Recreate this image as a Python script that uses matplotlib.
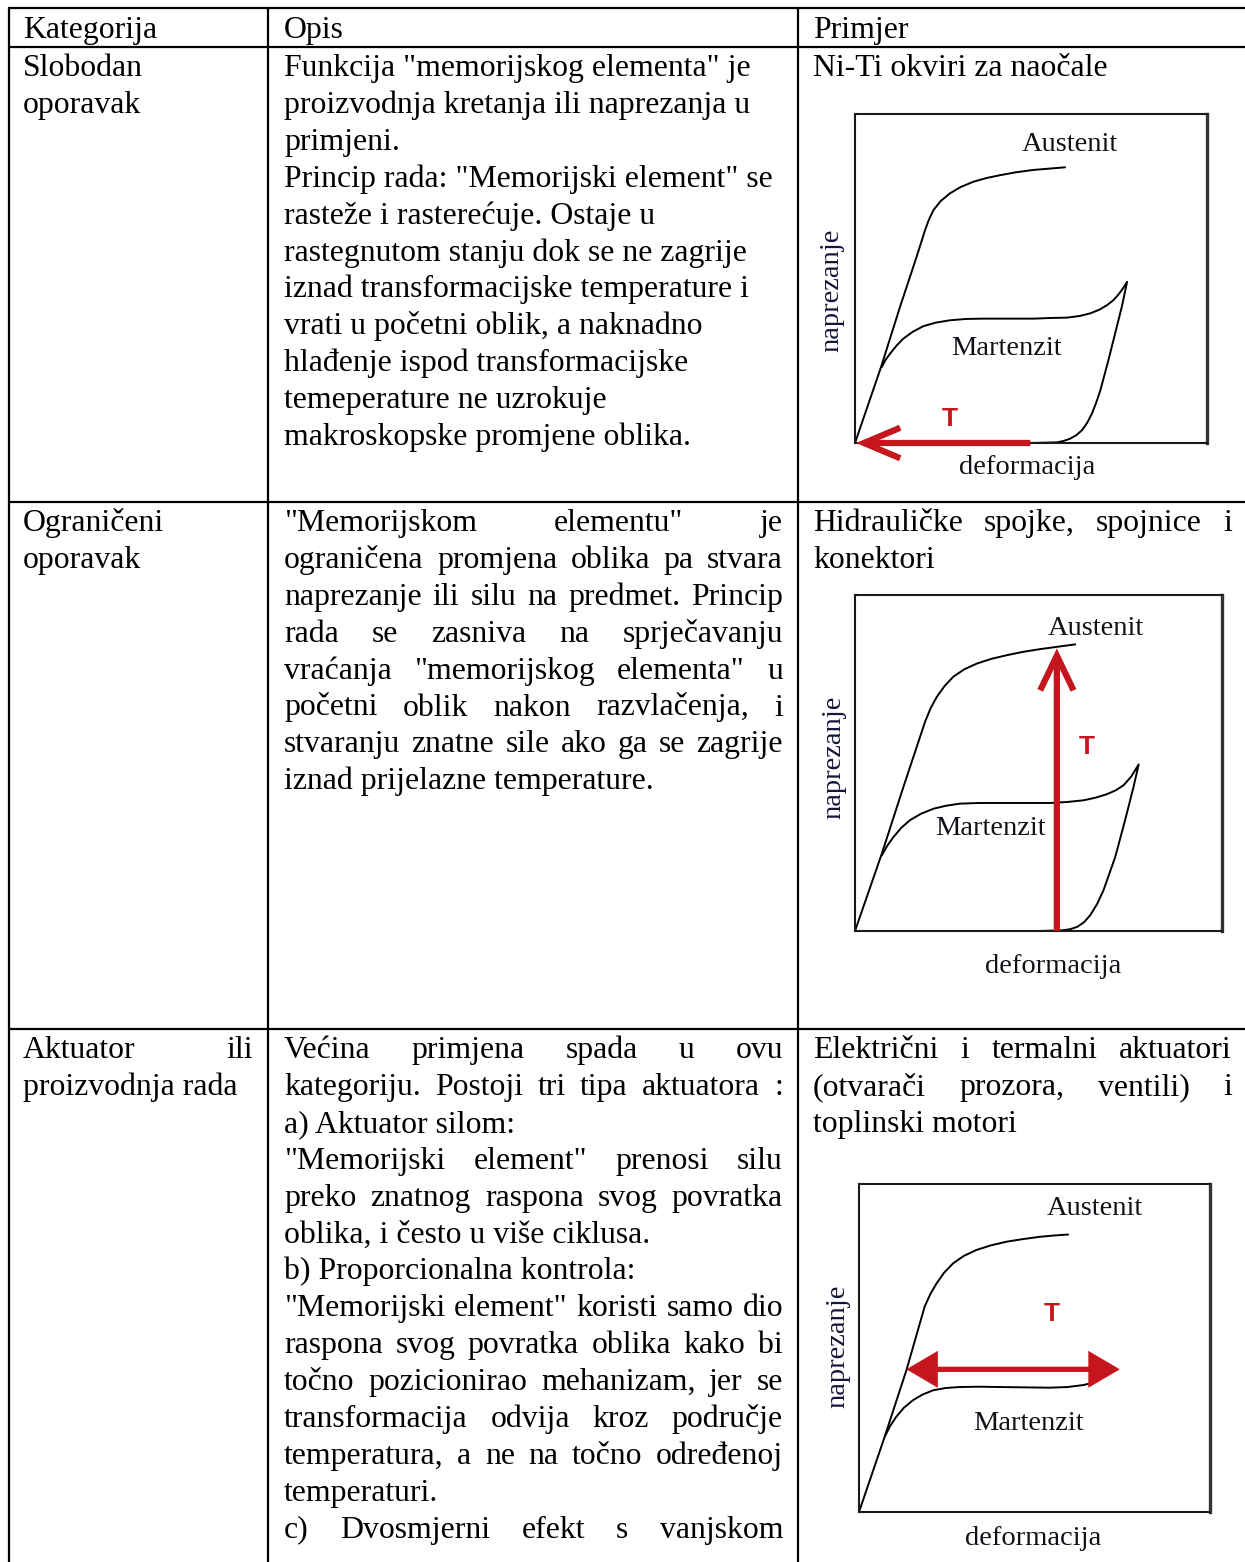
import matplotlib
matplotlib.use("Agg")
import matplotlib.pyplot as plt

W, H = 1245, 1562
SERIF = "Liberation Serif"
FS = 22.9
RED = "#c4161c"
INK = "#111118"

# ---------------- table content ----------------
headers = ["Kategorija", "Opis", "Primjer"]

row1_cat = ["Slobodan", "oporavak"]
row1_opis = [
    'Funkcija "memorijskog elementa" je',
    'proizvodnja kretanja ili naprezanja u',
    'primjeni.',
    'Princip rada: "Memorijski element" se',
    'rasteže i rasterećuje. Ostaje u',
    'rastegnutom stanju dok se ne zagrije',
    'iznad transformacijske temperature i',
    'vrati u početni oblik, a naknadno',
    'hlađenje ispod transformacijske',
    'temeperature ne uzrokuje',
    'makroskopske promjene oblika.',
]
row1_opis_just = [False] * 11
row1_prim = ["Ni-Ti okviri za naočale"]
row1_prim_just = [False]

row2_cat = ["Ograničeni", "oporavak"]
row2_opis = [
    '"Memorijskom elementu" je',
    'ograničena promjena oblika pa stvara',
    'naprezanje ili silu na predmet. Princip',
    'rada se zasniva na sprječavanju',
    'vraćanja "memorijskog elementa" u',
    'početni oblik nakon razvlačenja, i',
    'stvaranju znatne sile ako ga se zagrije',
    'iznad prijelazne temperature.',
]
row2_opis_just = [True] * 7 + [False]
row2_prim = ["Hidrauličke spojke, spojnice i", "konektori"]
row2_prim_just = [True, False]

row3_cat = ["Aktuator ili", "proizvodnja rada"]
row3_cat_just = [True, False]
row3_opis = [
    'Većina primjena spada u ovu',
    'kategoriju. Postoji tri tipa aktuatora :',
    'a) Aktuator silom:',
    '"Memorijski element" prenosi silu',
    'preko znatnog raspona svog povratka',
    'oblika, i često u više ciklusa.',
    'b) Proporcionalna kontrola:',
    '"Memorijski element" koristi samo dio',
    'raspona svog povratka oblika kako bi',
    'točno pozicionirao mehanizam, jer se',
    'transformacija odvija kroz područje',
    'temperatura, a ne na točno određenoj',
    'temperaturi.',
    'c) Dvosmjerni efekt s vanjskom',
]
row3_opis_just = [True, True, False, True, True, False, False,
                  True, True, True, True, True, False, True]
row3_prim = ["Električni i termalni aktuatori", "(otvarači prozora, ventili) i",
             "toplinski motori"]
row3_prim_just = [True, True, False]

# ---------------- diagram data (strain %, stress %) ----------------
# Diagram 1: free recovery
d1_aus_x = [0, 7.4, 12.8, 17.5, 19.9, 21.0, 22.3, 24.3, 27.0, 30.0, 33.6, 37.2,
            41.2, 45.8, 50.7, 55.2, 59.7]
d1_aus_y = [0, 23.1, 41.4, 56.6, 64.7, 67.9, 70.8, 73.5, 75.9, 77.8, 79.4, 80.5,
            81.4, 82.3, 83.0, 83.4, 83.8]
d1_mar_x = [7.6, 8.7, 10.0, 11.8, 13.7, 16.4, 19.4, 23.0, 27.0, 31.5, 36.5, 43.5,
            50.7, 55.5, 60.2, 63.8, 66.8, 69.4, 71.6, 73.4, 74.9, 76.2, 77.3,
            75.8, 73.9, 72.0, 69.7, 68.5, 67.3, 66.0, 64.5, 62.9, 61.1, 59.2,
            57.3, 49.8]
d1_mar_y = [23.1, 25.3, 27.2, 29.6, 31.7, 33.8, 35.5, 36.6, 37.3, 37.7, 37.8, 37.8,
            37.8, 38.0, 38.1, 38.6, 39.4, 40.5, 41.9, 43.4, 45.2, 47.1, 49.0,
            41.4, 33.3, 25.2, 16.0, 12.2, 8.9, 6.2, 3.9, 2.4, 1.3, 0.6,
            0.2, 0.0]
d1_arrow = (49.8, 0.0, 0.3, 0.0)

# Diagram 2: constrained recovery
d2_aus_x = [0, 7.3, 13.2, 19.1, 20.6, 22.3, 24.4, 26.8, 29.8, 33.2, 37.2, 41.4,
            45.9, 50.5, 55.2, 60.0]
d2_aus_y = [0, 23.0, 42.9, 62.3, 66.3, 69.7, 72.9, 75.7, 77.9, 79.6, 81.0, 82.1,
            83.1, 83.9, 84.6, 85.3]
d2_mar_x = [7.3, 8.8, 10.5, 12.6, 15.0, 18.0, 21.4, 24.9, 28.6, 33.8, 39.5, 46.3,
            53.2, 57.8, 62.3, 65.6, 68.6, 71.1, 73.2, 75.3, 77.3,
            75.9, 73.6, 70.9, 67.7, 66.0, 64.1, 62.4, 60.5, 58.5, 56.4, 50.0]
d2_mar_y = [22.5, 25.4, 28.0, 30.7, 33.0, 34.9, 36.4, 37.3, 37.9, 38.1, 38.1, 38.1,
            38.1, 38.4, 38.9, 39.7, 40.7, 41.9, 43.4, 46.0, 49.6,
            42.9, 33.0, 22.0, 12.1, 8.1, 4.7, 2.6, 1.2, 0.5, 0.2, 0.0]
d2_arrow = (55.0, 0.0, 55.0, 84.1)

# Diagram 3: actuator
d3_aus_x = [0, 7.3, 13.5, 18.7, 20.3, 22.1, 24.2, 26.8, 29.9, 33.5, 37.6, 42.0,
            46.7, 51.5, 55.6, 59.6]
d3_aus_y = [0, 22.9, 43.2, 62.6, 66.4, 69.7, 72.9, 75.8, 78.1, 79.9, 81.3, 82.4,
            83.2, 83.9, 84.3, 84.6]
d3_mar_x = [7.3, 8.8, 10.6, 12.8, 15.4, 18.1, 21.1, 24.7, 28.7, 34.2, 40.1, 47.2,
            54.4, 59.4, 63.9, 66.2, 68.2]
d3_mar_y = [22.9, 26.1, 29.0, 31.8, 34.1, 35.8, 37.1, 37.8, 38.1, 38.2, 38.1, 38.0,
            37.9, 38.1, 38.7, 39.3, 40.0]
d3_arrow = (13.5, 43.5, 74.3, 43.5)

# ---------------- figure ----------------
fig = plt.figure(figsize=(W / 100, H / 100), dpi=100)
ax = fig.add_axes([0, 0, 1, 1])
ax.set_xlim(0, W)
ax.set_ylim(H, 0)
ax.axis("off")
renderer = fig.canvas.get_renderer()

LW = 1.6
for y in (8, 47, 502, 1029):
    ax.plot([8, W], [y, y], color="black", lw=LW, solid_capstyle="butt")
for x in (9, 268, 798):
    ax.plot([x, x], [8, H], color="black", lw=LW, solid_capstyle="butt")

PITCH = 36.9


def put_line(x0, x1, y, text, justify):
    if not justify:
        ax.text(x0, y, text, fontsize=FS, family=SERIF, va="baseline", ha="left")
        return
    words = text.split()
    objs = [ax.text(0, y, w, fontsize=FS, family=SERIF, va="baseline", ha="left")
            for w in words]
    widths = [o.get_window_extent(renderer).width for o in objs]
    gap = (x1 - x0 - sum(widths)) / (len(words) - 1)
    x = x0
    for o, w in zip(objs, widths):
        o.set_x(x)
        x += w + gap


def put_block(x0, x1, ytop, lines, just=None):
    if just is None:
        just = [False] * len(lines)
    for i, (ln, j) in enumerate(zip(lines, just)):
        put_line(x0, x1, ytop + i * PITCH, ln, j)


C1 = (23, 253)
C2 = (284, 783)
C3 = (813, 1232)

for h, c in zip(headers, (C1, C2, C3)):
    put_line(c[0], c[1], 38, h, False)

put_block(*C1, 76, row1_cat)
put_block(*C2, 76, row1_opis, row1_opis_just)
put_block(*C3, 76, row1_prim, row1_prim_just)

put_block(*C1, 531, row2_cat)
put_block(*C2, 531, row2_opis, row2_opis_just)
put_block(*C3, 531, row2_prim, row2_prim_just)

put_block(*C1, 1058, row3_cat, row3_cat_just)
put_block(*C2, 1058, row3_opis, row3_opis_just)
put_block(*C3, 1058, row3_prim, row3_prim_just)


# ---------------- diagrams ----------------
def diagram(box, aus, mar, labels, t_pos, arrow, style, mscale=20, alw=4.5):
    x0, y0, x1, y1 = box
    dax = fig.add_axes([x0 / W, 1 - y1 / H, (x1 - x0) / W, (y1 - y0) / H])
    dax.set_xlim(0, 100)
    dax.set_ylim(0, 100)
    dax.set_xticks([])
    dax.set_yticks([])
    for s in dax.spines.values():
        s.set_linewidth(1.5)
        s.set_color("#1a1a1a")
    dax.spines["right"].set_linewidth(2.4)
    dax.spines["right"].set_color("#333333")
    dax.plot(aus[0], aus[1], color="black", lw=1.4, solid_joinstyle="round",
             solid_capstyle="round")
    dax.plot(mar[0], mar[1], color="black", lw=1.4, solid_joinstyle="round",
             solid_capstyle="round")
    ax_, ay_, bx_, by_ = arrow
    dax.annotate("", xy=(bx_, by_), xytext=(ax_, ay_),
                 arrowprops=dict(arrowstyle=style, color=RED, lw=alw,
                                 mutation_scale=mscale, shrinkA=0, shrinkB=0,
                                 joinstyle="miter", capstyle="butt"),
                 annotation_clip=False)
    (au, mt, de, na) = labels
    dax.text(au[0], au[1], "Austenit", fontsize=20.5, family=SERIF, color=INK,
             ha="center", va="center")
    dax.text(mt[0], mt[1], "Martenzit", fontsize=20.5, family=SERIF, color=INK,
             ha="center", va="center")
    dax.text(de[0], de[1], "deformacija", fontsize=20.5, family=SERIF, color=INK,
             ha="center", va="center", clip_on=False)
    dax.text(na[0], na[1], "naprezanje", fontsize=20.5, family=SERIF,
             color="#15153a", ha="center", va="center", rotation=90, clip_on=False)
    dax.text(t_pos[0], t_pos[1], "T", fontsize=19, family="Liberation Sans",
             fontweight="bold", color=RED, ha="center", va="center")
    return dax


diagram((855, 114, 1207, 443), (d1_aus_x, d1_aus_y), (d1_mar_x, d1_mar_y),
        ((61.1, 90.6), (43.1, 28.7), (48.8, -7.3), (-6.6, 46.5)), (27.0, 7.4),
        d1_arrow, "->,head_length=1.3,head_width=0.55")
diagram((855, 595, 1222, 931), (d2_aus_x, d2_aus_y), (d2_mar_x, d2_mar_y),
        ((65.5, 90.1), (36.8, 30.5), (54.1, -10.7), (-5.9, 51.8)), (63.2, 54.8),
        d2_arrow, "->,head_length=1.25,head_width=0.6")
diagram((859, 1184, 1210, 1512), (d3_aus_x, d3_aus_y), (d3_mar_x, d3_mar_y),
        ((67.2, 92.6), (48.2, 27.0), (49.6, -8.1), (-6.0, 50.4)), (54.8, 60.5),
        d3_arrow, "<|-|>,head_length=0.85,head_width=0.5", alw=3.8)

fig.savefig("out.png", dpi=100)
